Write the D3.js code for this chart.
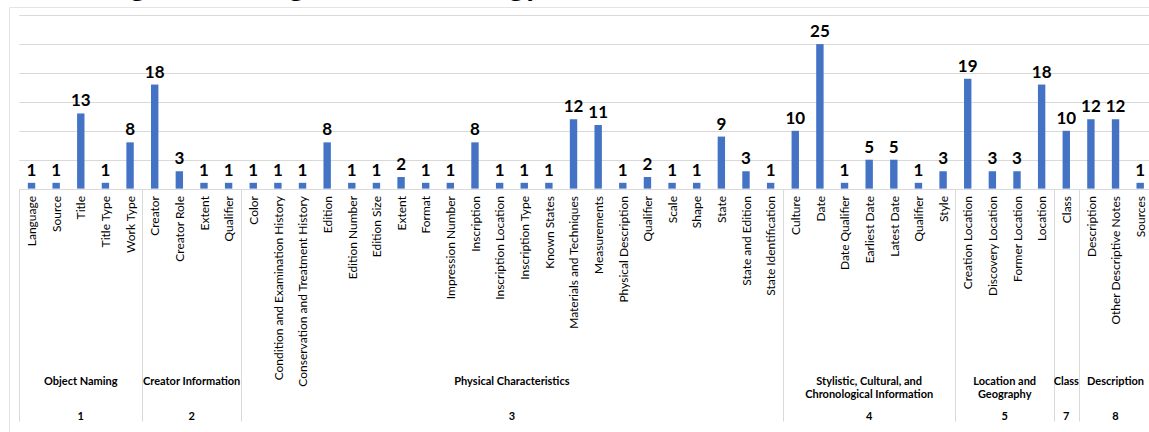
<!DOCTYPE html>
<html>
<head>
<meta charset="utf-8">
<script src="https://cdn.jsdelivr.net/npm/d3@7"></script>
<style>
  html, body { margin: 0; padding: 0; background: #ffffff; }
  svg { display: block; }
</style>
</head>
<body>
<svg id="chart" width="1149" height="432"></svg>
<script>
// ---------------- DATA ----------------
const titleText = "Missing Data Using Current Strategy";

const categories = [
  "Language", "Source", "Title", "Title Type", "Work Type",
  "Creator", "Creator Role", "Extent", "Qualifier",
  "Color", "Condition and Examination History", "Conservation and Treatment History",
  "Edition", "Edition Number", "Edition Size", "Extent", "Format", "Impression Number",
  "Inscription", "Inscription Location", "Inscription Type", "Known States",
  "Materials and Techniques", "Measurements", "Physical Description", "Qualifier",
  "Scale", "Shape", "State", "State and Edition", "State Identification",
  "Culture", "Date", "Date Qualifier", "Earliest Date", "Latest Date", "Qualifier", "Style",
  "Creation Location", "Discovery Location", "Former Location", "Location",
  "Class",
  "Description", "Other Descriptive Notes", "Sources"
];

const values = [
  1, 1, 13, 1, 8,
  18, 3, 1, 1,
  1, 1, 1, 8, 1, 1, 2, 1, 1, 8, 1, 1, 1, 12, 11, 1, 2, 1, 1, 9, 3, 1,
  10, 25, 1, 5, 5, 1, 3,
  19, 3, 3, 18,
  10,
  12, 12, 1
];

const groupIds = ["1", "2", "3", "4", "5", "7", "8"];
const groupNames = [
  ["Object Naming"],
  ["Creator Information"],
  ["Physical Characteristics"],
  ["Stylistic, Cultural, and", "Chronological Information"],
  ["Location and", "Geography"],
  ["Class"],
  ["Description"]
];
const groupSizes = [5, 4, 22, 7, 4, 1, 3];

const yTicks = [0, 5, 10, 15, 20, 25, 30];

// ---------------- LAYOUT ----------------
const W = 1149, H = 432;
const plotLeft = 19.2, plotRight = 1152.5;
const plotTop = 15.2, plotBottom = 188.6;
const catLabelTop = 196;
const groupLabelY = 385;
const groupLineGap = 13;
const groupIdY = 419.5;
const axisBottom = 421.5;

const FONT = "Lato, 'Open Sans', 'DejaVu Sans', sans-serif";
const BAR = "#4472c4";
const GRID = "#d9d9d9";

const svg = d3.select("#chart");

svg.append("rect").attr("width", W).attr("height", H).attr("fill", "#fff");

// outer chart border
svg.append("path")
  .attr("d", `M9.5,${H + 5} V7.5 H${W + 5}`)
  .attr("fill", "none").attr("stroke", "#e4e4e4").attr("stroke-width", 1);

// title (cut off at top, only descenders show)
svg.append("text")
  .attr("x", 40).attr("y", -4)
  .attr("font-family", FONT).attr("font-weight", 700).attr("font-size", 31)
  .attr("fill", "#000")
  .text(titleText);

const idx = d3.range(categories.length);

const xSlot = d3.scaleBand().domain(idx).range([plotLeft, plotRight]).padding(0);
const xBar = d3.scaleBand().domain(idx).range([plotLeft, plotRight])
  .paddingInner(0.7).paddingOuter(0.35);
const y = d3.scaleLinear().domain([0, 30]).range([plotBottom, plotTop]);

// gridlines
svg.append("g")
  .selectAll("line")
  .data(yTicks.filter(t => t > 0))
  .join("line")
  .attr("x1", plotLeft).attr("x2", W + 5)
  .attr("y1", d => Math.round(y(d)) + 0.5).attr("y2", d => Math.round(y(d)) + 0.5)
  .attr("stroke", GRID).attr("stroke-width", 1);

// bars
svg.append("g")
  .selectAll("rect")
  .data(values)
  .join("rect")
  .attr("x", (d, i) => xBar(i))
  .attr("width", xBar.bandwidth())
  .attr("y", d => y(d))
  .attr("height", d => y(0) - y(d))
  .attr("fill", BAR);

// value labels
svg.append("g")
  .selectAll("text")
  .data(values)
  .join("text")
  .attr("x", (d, i) => xBar(i) + xBar.bandwidth() / 2)
  .attr("y", d => y(d) - 7)
  .attr("text-anchor", "middle")
  .attr("font-family", FONT).attr("font-weight", 700).attr("font-size", 17)
  .attr("fill", "#000")
  .text(d => d);

// category axis line
svg.append("line")
  .attr("x1", plotLeft).attr("x2", W + 5)
  .attr("y1", Math.round(y(0)) + 0.5).attr("y2", Math.round(y(0)) + 0.5)
  .attr("stroke", GRID).attr("stroke-width", 1);

// category labels (rotated)
svg.append("g")
  .selectAll("text")
  .data(categories)
  .join("text")
  .attr("transform", (d, i) =>
    `translate(${xSlot(i) + xSlot.bandwidth() / 2 + 0.5},${catLabelTop}) rotate(-90)`)
  .attr("text-anchor", "end")
  .attr("dy", "0.35em")
  .attr("font-family", FONT).attr("font-size", 12)
  .attr("fill", "#000")
  .text(d => d);

// group boundaries
const starts = [];
let acc = 0;
groupSizes.forEach(s => { starts.push(acc); acc += s; });
const boundaries = starts.map(s => xSlot(s)).concat([xSlot(acc - 1) + xSlot.bandwidth()]);

svg.append("g")
  .selectAll("line")
  .data(boundaries)
  .join("line")
  .attr("x1", d => Math.round(d) + 0.5).attr("x2", d => Math.round(d) + 0.5)
  .attr("y1", Math.round(y(0)) + 0.5).attr("y2", axisBottom)
  .attr("stroke", GRID).attr("stroke-width", 1);

// group labels
const groups = groupIds.map((id, g) => ({
  id, lines: groupNames[g],
  cx: (xSlot(starts[g]) + xSlot(starts[g] + groupSizes[g] - 1) + xSlot.bandwidth()) / 2
}));

const gl = svg.append("g");
groups.forEach(gr => {
  gr.lines.forEach((ln, k) => {
    gl.append("text")
      .attr("x", gr.cx).attr("y", groupLabelY + k * groupLineGap)
      .attr("text-anchor", "middle")
      .attr("font-family", FONT).attr("font-weight", 700).attr("font-size", 11)
      .attr("fill", "#000")
      .text(ln);
  });
  gl.append("text")
    .attr("x", gr.cx).attr("y", groupIdY)
    .attr("text-anchor", "middle")
    .attr("font-family", FONT).attr("font-weight", 700).attr("font-size", 11)
    .attr("fill", "#000")
    .text(gr.id);
});
</script>
</body>
</html>
